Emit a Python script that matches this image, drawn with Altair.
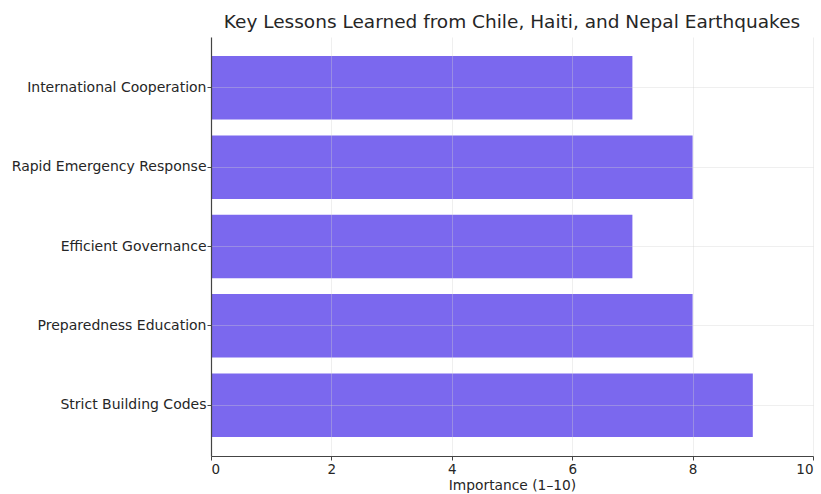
import altair as alt
import pandas as pd

lessons = [
    "International Cooperation",
    "Rapid Emergency Response",
    "Efficient Governance",
    "Preparedness Education",
    "Strict Building Codes",
]
importance = [7, 8, 7, 8, 9]

df = pd.DataFrame({"Lesson": lessons, "Importance": importance})

font = "DejaVu Sans"

bars = (
    alt.Chart(df)
    .mark_bar(color="#7B68EE")
    .encode(
        x=alt.X(
            "Importance:Q",
            scale=alt.Scale(domain=[0, 10], nice=False),
            axis=alt.Axis(
                title="Importance (1–10)",
                values=[0, 2, 4, 6, 8, 10],
                format="d",
                grid=True,
                gridColor="#d0d0d0",
                gridOpacity=0.35,
                domainColor="#444444",
                domainWidth=1.2,
                tickColor="#444444",
                tickSize=4,
                labelFontSize=13.5,
                labelColor="#262626",
                labelPadding=2,
                titleFontSize=13.8,
                titleColor="#262626",
                titleFontWeight="normal",
                titlePadding=3,
                zindex=1,
            ),
        ),
        y=alt.Y(
            "Lesson:N",
            sort=lessons,
            scale=alt.Scale(paddingInner=0.2, paddingOuter=0.24),
            axis=alt.Axis(
                title=None,
                grid=True,
                gridColor="#d0d0d0",
                gridOpacity=0.35,
                domainColor="#444444",
                domainWidth=1.2,
                tickColor="#444444",
                tickSize=4,
                labelFontSize=14,
                labelColor="#262626",
                labelPadding=1,
                labelLimit=400,
                zindex=1,
            ),
        ),
    )
)

chart = (
    bars.properties(
        width=602,
        height=419,
        title=alt.TitleParams(
            "Key Lessons Learned from Chile, Haiti, and Nepal Earthquakes",
            fontSize=18.5,
            font=font,
            fontWeight="normal",
            color="#262626",
            anchor="middle",
            offset=6,
        ),
        autosize=alt.AutoSizeParams(type="none"),
        padding={"left": 211, "top": 37, "right": 8, "bottom": 38},
    )
    .configure(font=font)
    .configure_view(stroke=None)
    .configure_axis(labelFont=font, titleFont=font)
)

chart.save("out.html", embed_options={"renderer": "svg", "actions": False})
